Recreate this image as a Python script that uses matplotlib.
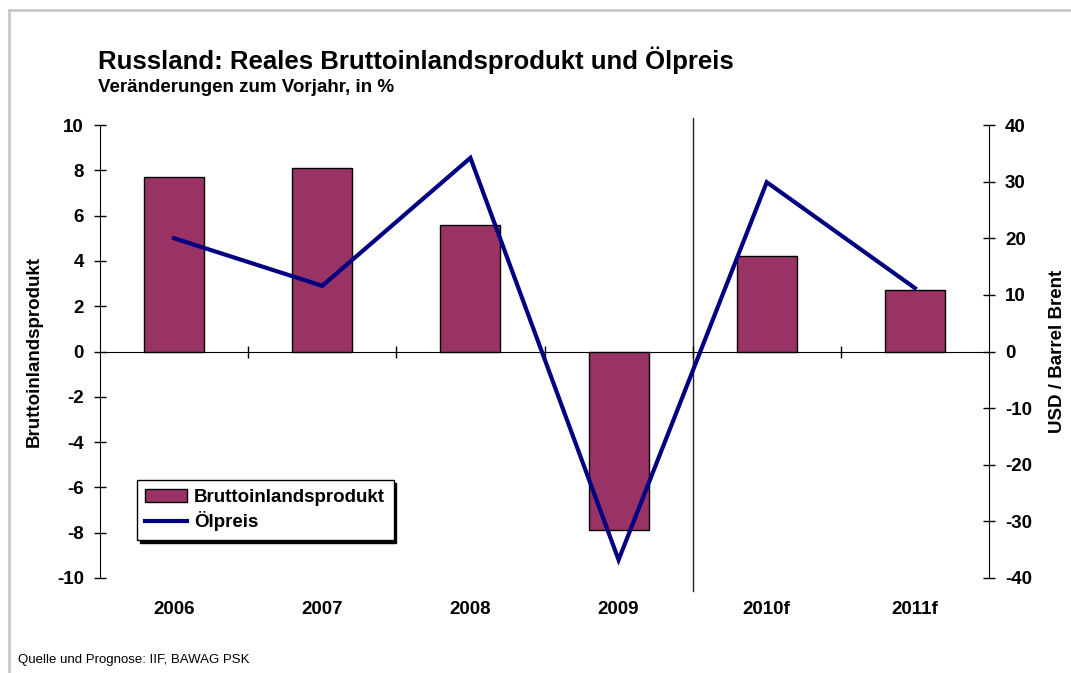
import matplotlib.pyplot as plt
from matplotlib.lines import Line2D
import numpy as np

plt.rcParams['font.family'] = ['Liberation Sans', 'DejaVu Sans']
plt.rcParams['axes.unicode_minus'] = False

years = ["2006", "2007", "2008", "2009", "2010f", "2011f"]
bip = [7.7, 8.1, 5.6, -7.9, 4.2, 2.7]
oel = [20.0, 11.6, 34.2, -36.8, 29.9, 11.2]

bar_col = "#993366"
line_col = "#000080"
fs = 13.5

fig = plt.figure(figsize=(10.71, 6.73), dpi=100)
ax = fig.add_axes([100 / 1071, 95 / 673, 889 / 1071, 453 / 673])
ax2 = ax.twinx()

x = np.arange(len(years))
bars = ax.bar(x, bip, width=0.405, color=bar_col, edgecolor="black", linewidth=1, zorder=3)
ln, = ax2.plot(x, oel, color=line_col, lw=3, solid_joinstyle="miter", zorder=4)

ax.set_xlim(-0.5, len(years) - 0.5)
ax.set_ylim(-10, 10)
ax2.set_ylim(-40, 40)
ax.set_yticks(np.arange(-10, 11, 2))
ax2.set_yticks(np.arange(-40, 41, 10))

# Achsen
for s in ["top", "right"]:
    ax.spines[s].set_visible(False)
for s in ["top", "bottom", "left"]:
    ax2.spines[s].set_visible(False)
ax.spines["bottom"].set_position(("data", 0))
ax.spines["bottom"].set_zorder(2)
ax.set_xticks(x[:-1] + 0.5)
ax.set_xticklabels([])
ax.tick_params(axis="x", direction="inout", length=9, width=1)
ax.tick_params(axis="y", direction="inout", length=9, width=1, labelsize=fs, pad=7)
ax2.tick_params(axis="y", direction="inout", length=9, width=1, labelsize=fs, pad=7)
for lab in ax.get_yticklabels() + ax2.get_yticklabels():
    lab.set_fontweight("bold")

for i, y in enumerate(years):
    ax.text(i, -11.4, y, ha="center", va="center", fontsize=fs, fontweight="bold")

# Trennlinie Prognose
ax.axvline(3.5, ymin=-0.029, ymax=1.016, color="#222222", lw=1, clip_on=False, zorder=1)

ax.set_ylabel("Bruttoinlandsprodukt", fontsize=fs, fontweight="bold", labelpad=10)
ax2.set_ylabel("USD / Barrel Brent", fontsize=fs, fontweight="bold", labelpad=12)

fig.text(98 / 1071, 1 - 60 / 673, "Russland: Reales Bruttoinlandsprodukt und Ölpreis",
         fontsize=18.5, fontweight="bold", va="center")
fig.text(98 / 1071, 1 - 88 / 673, "Veränderungen zum Vorjahr, in %",
         fontsize=fs, fontweight="bold", va="center")
fig.text(18 / 1071, 1 - 660 / 673, "Quelle und Prognose: IIF, BAWAG PSK",
         fontsize=9.5, va="center")

leg = ax2.legend([bars, ln], ["Bruttoinlandsprodukt", "Ölpreis"],
                 loc="upper left", bbox_to_anchor=(0.0416, 0.216), borderaxespad=0,
                 fancybox=False, shadow={"color": "black", "alpha": 1},
                 prop={"weight": "bold", "size": fs}, handlelength=2.2,
                 handletextpad=0.4, borderpad=0.45, labelspacing=0.3)
leg.get_frame().set_edgecolor("black")
leg.get_frame().set_linewidth(1)

# grauer Rahmen
fig.add_artist(Line2D([9 / 1071, 9 / 1071], [0, 1 - 10 / 673], color="#c8c8c8", lw=2))
fig.add_artist(Line2D([9 / 1071, 1], [1 - 10 / 673, 1 - 10 / 673], color="#c8c8c8", lw=2))

fig.savefig("out.png", dpi=100)
